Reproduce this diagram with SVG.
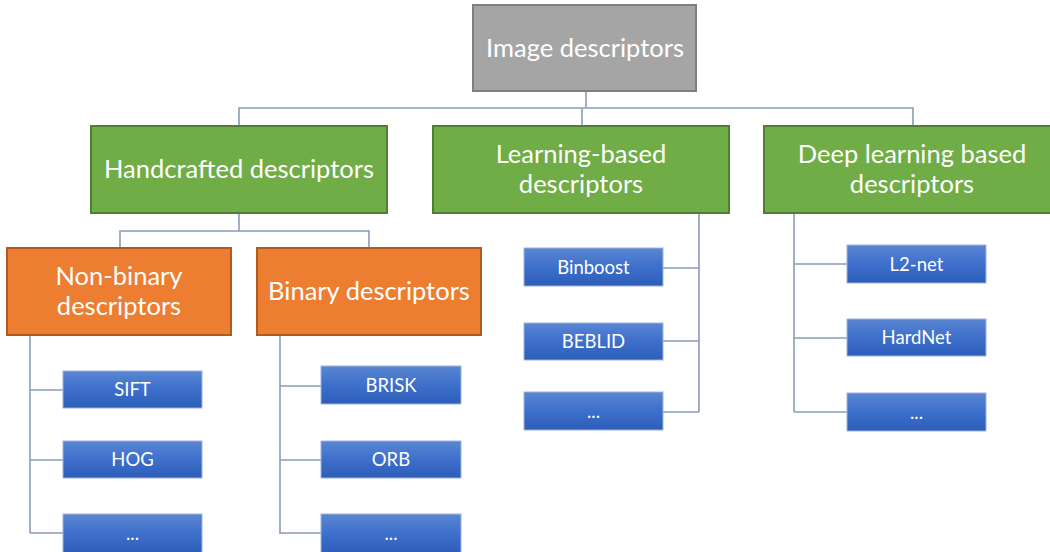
<svg xmlns="http://www.w3.org/2000/svg" width="1050" height="552" viewBox="0 0 1050 552">
  <defs>
    <linearGradient id="blueFill" x1="0" y1="0" x2="0" y2="1">
      <stop offset="0" stop-color="#5A86D1"/>
      <stop offset="0.5" stop-color="#3D6FCC"/>
      <stop offset="1" stop-color="#2D5DB7"/>
    </linearGradient>
  </defs>
  <style>
    text { font-family: Lato, "Liberation Sans", sans-serif; fill: #FFFFFF; text-anchor: middle; }
    .root rect { fill: #A5A5A5; stroke: #7F7F7F; stroke-width: 2; }
    .cat rect { fill: #70AD47; stroke: #507E32; stroke-width: 2; }
    .sub rect { fill: #ED7D31; stroke: #AE5A21; stroke-width: 2; }
    .leaf rect { fill: url(#blueFill); stroke: #9DB4E0; stroke-width: 1; }
    .big { font-size: 25.5px; }
    .small { font-size: 18.5px; }
    #connectors path { fill: none; stroke: #8A9BBA; stroke-width: 1.6; }
  </style>

  <!-- connectors -->
  <g id="connectors">
    <path d="M586 91 V108 M239 126 V108 H913 V126 M582 108 V126"/>
    <path d="M239 213 V231 M120 248 V231 H369 V248"/>
    <path d="M30 335 V533 M30 390 H63 M30 460 H63 M30 533 H63"/>
    <path d="M280 335 V534 M280 386 H321 M280 460 H321 M280 533 H321"/>
    <path d="M699 213 V412 M663 268 H699 M663 341 H699 M663 412 H699"/>
    <path d="M794 213 V412 M794 264 H847 M794 338 H847 M794 412 H847"/>
  </g>

  <!-- root -->
  <g id="image-descriptors" class="root">
    <rect x="473" y="5" width="223" height="86"/>
    <text class="big" x="585" y="57">Image descriptors</text>
  </g>

  <!-- categories -->
  <g id="handcrafted" class="cat">
    <rect x="91" y="126" width="296" height="87"/>
    <text class="big" x="239" y="178">Handcrafted descriptors</text>
  </g>
  <g id="learning-based" class="cat">
    <rect x="433" y="126" width="296" height="87"/>
    <text class="big" x="581" y="163">Learning-based</text>
    <text class="big" x="581" y="193">descriptors</text>
  </g>
  <g id="deep-learning" class="cat">
    <rect x="764" y="126" width="296" height="87"/>
    <text class="big" x="912" y="163">Deep learning based</text>
    <text class="big" x="912" y="193">descriptors</text>
  </g>

  <!-- sub-categories -->
  <g id="non-binary" class="sub">
    <rect x="7" y="248" width="224" height="87"/>
    <text class="big" x="119" y="285">Non-binary</text>
    <text class="big" x="119" y="315">descriptors</text>
  </g>
  <g id="binary" class="sub">
    <rect x="257" y="248" width="224" height="87"/>
    <text class="big" x="369" y="300">Binary descriptors</text>
  </g>

  <!-- leaves: non-binary -->
  <g id="sift" class="leaf">
    <rect x="63" y="371" width="139" height="37"/>
    <text class="small" x="132.5" y="396">SIFT</text>
  </g>
  <g id="hog" class="leaf">
    <rect x="63" y="441" width="139" height="37"/>
    <text class="small" x="132.5" y="466">HOG</text>
  </g>
  <g id="non-binary-more" class="leaf">
    <rect x="63" y="514" width="139" height="40"/>
    <text class="small" x="132.5" y="540">...</text>
  </g>

  <!-- leaves: binary -->
  <g id="brisk" class="leaf">
    <rect x="321" y="366" width="140" height="38"/>
    <text class="small" x="391" y="392">BRISK</text>
  </g>
  <g id="orb" class="leaf">
    <rect x="321" y="441" width="140" height="37"/>
    <text class="small" x="391" y="466">ORB</text>
  </g>
  <g id="binary-more" class="leaf">
    <rect x="321" y="514" width="140" height="40"/>
    <text class="small" x="391" y="540">...</text>
  </g>

  <!-- leaves: learning-based -->
  <g id="binboost" class="leaf">
    <rect x="524" y="248" width="139" height="38"/>
    <text class="small" x="593.5" y="274">Binboost</text>
  </g>
  <g id="beblid" class="leaf">
    <rect x="524" y="323" width="139" height="37"/>
    <text class="small" x="593.5" y="348">BEBLID</text>
  </g>
  <g id="learning-more" class="leaf">
    <rect x="524" y="392" width="139" height="38"/>
    <text class="small" x="593.5" y="418">...</text>
  </g>

  <!-- leaves: deep learning -->
  <g id="l2-net" class="leaf">
    <rect x="847" y="245" width="139" height="38"/>
    <text class="small" x="916.5" y="271">L2-net</text>
  </g>
  <g id="hardnet" class="leaf">
    <rect x="847" y="319" width="139" height="37"/>
    <text class="small" x="916.5" y="344">HardNet</text>
  </g>
  <g id="deep-more" class="leaf">
    <rect x="847" y="393" width="139" height="38"/>
    <text class="small" x="916.5" y="419">...</text>
  </g>
</svg>
